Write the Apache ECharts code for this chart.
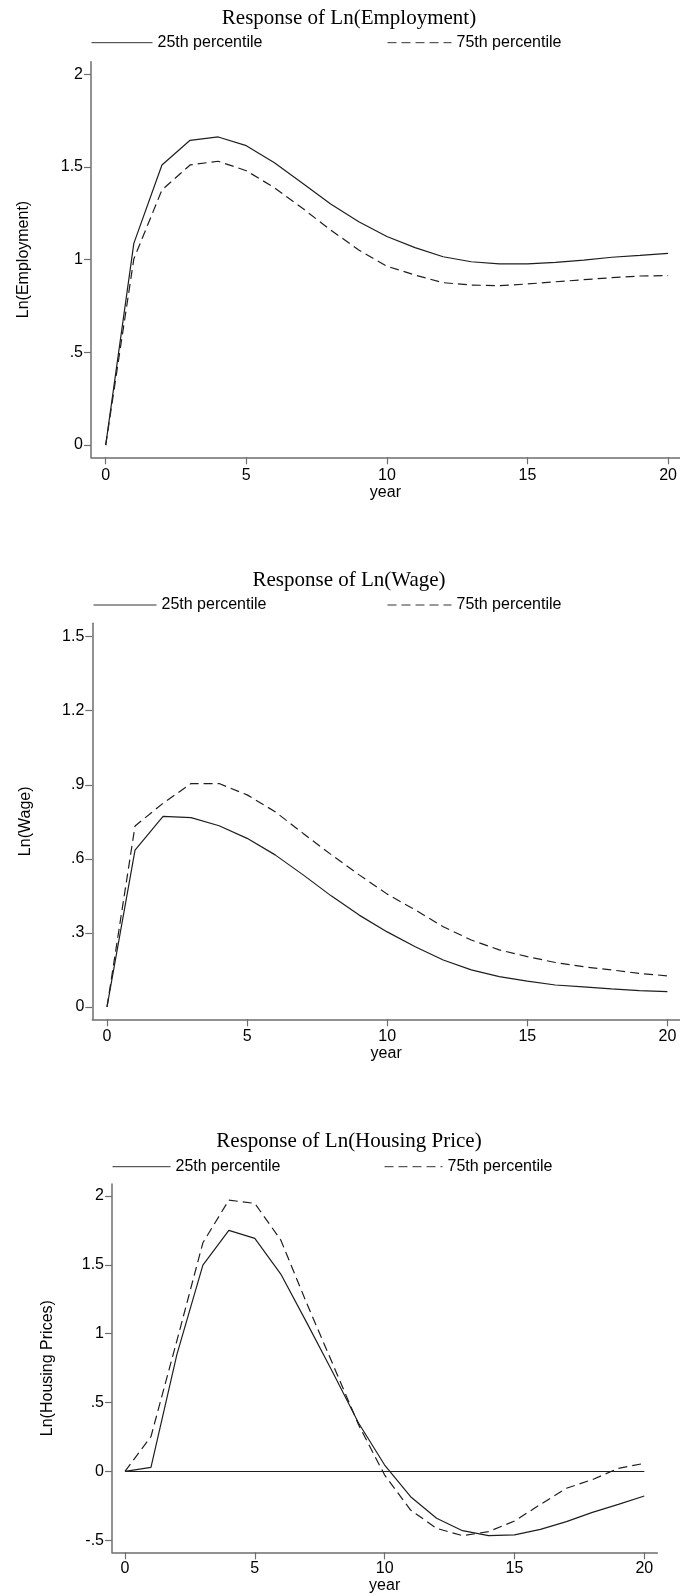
<!DOCTYPE html>
<html>
<head>
<meta charset="utf-8">
<script src="https://cdn.jsdelivr.net/npm/echarts@6/dist/echarts.min.js"></script>
<style>
html,body{margin:0;padding:0;background:#fff;}
#chart{width:680px;height:1596px;}
</style>
</head>
<body>
<div id="chart"></div>
<script>
// ---- data ----
var years = [0,1,2,3,4,5,6,7,8,9,10,11,12,13,14,15,16,17,18,19,20];
var seriesNames = ['25th percentile', '75th percentile'];
var panelTitles = ['Response of Ln(Employment)', 'Response of Ln(Wage)', 'Response of Ln(Housing Price)'];
var yNames = ['Ln(Employment)', 'Ln(Wage)', 'Ln(Housing Prices)'];
var xName = 'year';
var xTicks = [0,5,10,15,20];
var yTicks1 = [0,0.5,1,1.5,2];
var yTicks2 = [0,0.3,0.6,0.9,1.2,1.5];
var yTicks3 = [-0.5,0,0.5,1,1.5,2];

var empP25 = [0,1.088,1.511,1.644,1.662,1.615,1.523,1.412,1.300,1.205,1.125,1.065,1.016,0.989,0.977,0.977,0.986,0.998,1.013,1.023,1.034];
var empP75 = [0,1.004,1.376,1.511,1.531,1.480,1.388,1.277,1.160,1.052,0.965,0.917,0.876,0.863,0.860,0.869,0.881,0.892,0.903,0.912,0.914];
var wageP25 = [0,0.635,0.772,0.767,0.734,0.683,0.616,0.535,0.450,0.372,0.304,0.244,0.190,0.150,0.123,0.105,0.089,0.081,0.073,0.066,0.062];
var wageP75 = [0,0.733,0.825,0.905,0.905,0.859,0.791,0.703,0.617,0.535,0.457,0.393,0.325,0.271,0.231,0.204,0.180,0.163,0.150,0.136,0.126];
var housP25 = [0,0.029,0.85,1.498,1.750,1.692,1.433,1.08,0.72,0.349,0.046,-0.184,-0.341,-0.431,-0.467,-0.462,-0.421,-0.365,-0.298,-0.240,-0.179];
var housP75 = [0,0.252,0.95,1.66,1.970,1.946,1.680,1.22,0.78,0.336,-0.027,-0.281,-0.414,-0.467,-0.438,-0.361,-0.240,-0.123,-0.060,0.022,0.058];
var zeroLevel = 0;

// ---- helpers ----
function pairs(vals){ return years.map(function(y,i){ return [y, vals[i]]; }); }
function fmt(v){
  if (v === 0) return '0';
  var s = String(Math.round(v*10)/10);
  return s.replace(/^0\./,'.').replace(/^-0\./,'-.');
}
var SANS = "'Liberation Sans', Arial, Helvetica, sans-serif";
var SERIF = "'Liberation Serif', 'Times New Roman', serif";
var AXIS_COLOR = '#6e6e6e';
var LINE_COLOR = '#1e1e1e';

var grids = [
  {left:91, top:61.7, width:589, height:395.6},
  {left:92.3, top:623.3, width:587.7, height:396},
  {left:112, top:1184, width:545.3, height:368.3}
];
var xRanges = [[-0.523,20.416],[-0.525,20.45],[-0.5,20.5]];
var yRanges = [[-0.066,2.068],[-0.05,1.554],[-0.588,2.087]];
var yTickSets = [yTicks1, yTicks2, yTicks3];
var xNameGaps = [25, 25, 17];
var xLabelMargins = [10, 9.5, 8];
var yNameGaps = [59, 59, 56];

var xAxes = [], yAxes = [];
for (var i=0;i<3;i++){
  xAxes.push({
    type:'value', gridIndex:i, min:xRanges[i][0], max:xRanges[i][1],
    name: xName, nameLocation:'middle', nameGap:xNameGaps[i],
    nameTextStyle:{fontFamily:SANS, fontSize:16, color:'#000'},
    axisLine:{show:true, onZero:false, lineStyle:{color:AXIS_COLOR, width:1.5}},
    axisTick:{show:true, length:7, customValues:xTicks, lineStyle:{color:AXIS_COLOR, width:1.2}},
    axisLabel:{customValues:xTicks, margin:xLabelMargins[i], fontFamily:SANS, fontSize:16, color:'#000'},
    splitLine:{show:false}
  });
  yAxes.push({
    type:'value', gridIndex:i, min:yRanges[i][0], max:yRanges[i][1],
    name: yNames[i], nameLocation:'middle', nameGap:yNameGaps[i],
    nameTextStyle:{fontFamily:SANS, fontSize:16, color:'#000'},
    axisLine:{show:true, onZero:false, lineStyle:{color:AXIS_COLOR, width:1.5}},
    axisTick:{show:true, length:7, customValues:yTickSets[i], lineStyle:{color:AXIS_COLOR, width:1.2}},
    axisLabel:{customValues:yTickSets[i], margin:8, fontFamily:SANS, fontSize:16, color:'#000', formatter:fmt},
    splitLine:{show:false}
  });
}

var panelData = [[empP25, empP75],[wageP25, wageP75],[housP25, housP75]];
var series = [];
for (var p=0;p<3;p++){
  for (var k=0;k<2;k++){
    var s = {
      name: seriesNames[k], type:'line', xAxisIndex:p, yAxisIndex:p,
      data: pairs(panelData[p][k]), symbol:'none', showSymbol:false, smooth:false,
      lineStyle:{color:LINE_COLOR, width:1.2, type: k===0 ? 'solid' : [9,5]},
      itemStyle:{color:LINE_COLOR},
      emphasis:{disabled:true}, animation:false, z: 3
    };
    if (p===2 && k===0){
      s.markLine = {
        silent:true, symbol:'none', label:{show:false},
        lineStyle:{color:LINE_COLOR, type:'solid', width:1.2},
        emphasis:{disabled:true},
        data:[[{coord:[years[0], zeroLevel]},{coord:[years[years.length-1], zeroLevel]}]]
      };
    }
    series.push(s);
  }
}

var titleCenters = [[349,18.3],[349,580],[349,1141.7]];
var titles = titleCenters.map(function(c,i){
  return {text:panelTitles[i], left:c[0], top:c[1], padding:0,
    textAlign:'center', textVerticalAlign:'middle',
    textStyle:{fontFamily:SERIF, fontSize:21, fontWeight:'normal', color:'#000'}};
});

var legendSpecs = [
  // [left, centerY, itemWidth, textGap, nameIndex]
  [91, 42.7, 61, 7, 0], [387, 42.7, 64, 3, 1],
  [93, 605, 63, 5, 0], [387, 605, 64, 3, 1],
  [112, 1166.7, 58, 4, 0], [384, 1166.7, 58, 5, 1]
];
var legends = legendSpecs.map(function(l){
  return {data:[seriesNames[l[4]]], left:l[0], top:l[1]-8, padding:0,
    itemWidth:l[2], itemHeight:14, itemGap:0, itemTextGap:l[3],
    selectedMode:false,
    itemStyle:{opacity:0, borderWidth:0},
    lineStyle:{width:1, color:'#333'},
    textStyle:{fontFamily:SANS, fontSize:16, color:'#000'}};
});

var chart = echarts.init(document.getElementById('chart'), null, {renderer:'canvas'});
chart.setOption({
  backgroundColor:'#fff',
  animation:false,
  title: titles,
  legend: legends,
  grid: grids,
  xAxis: xAxes,
  yAxis: yAxes,
  series: series
});
</script>
</body>
</html>
